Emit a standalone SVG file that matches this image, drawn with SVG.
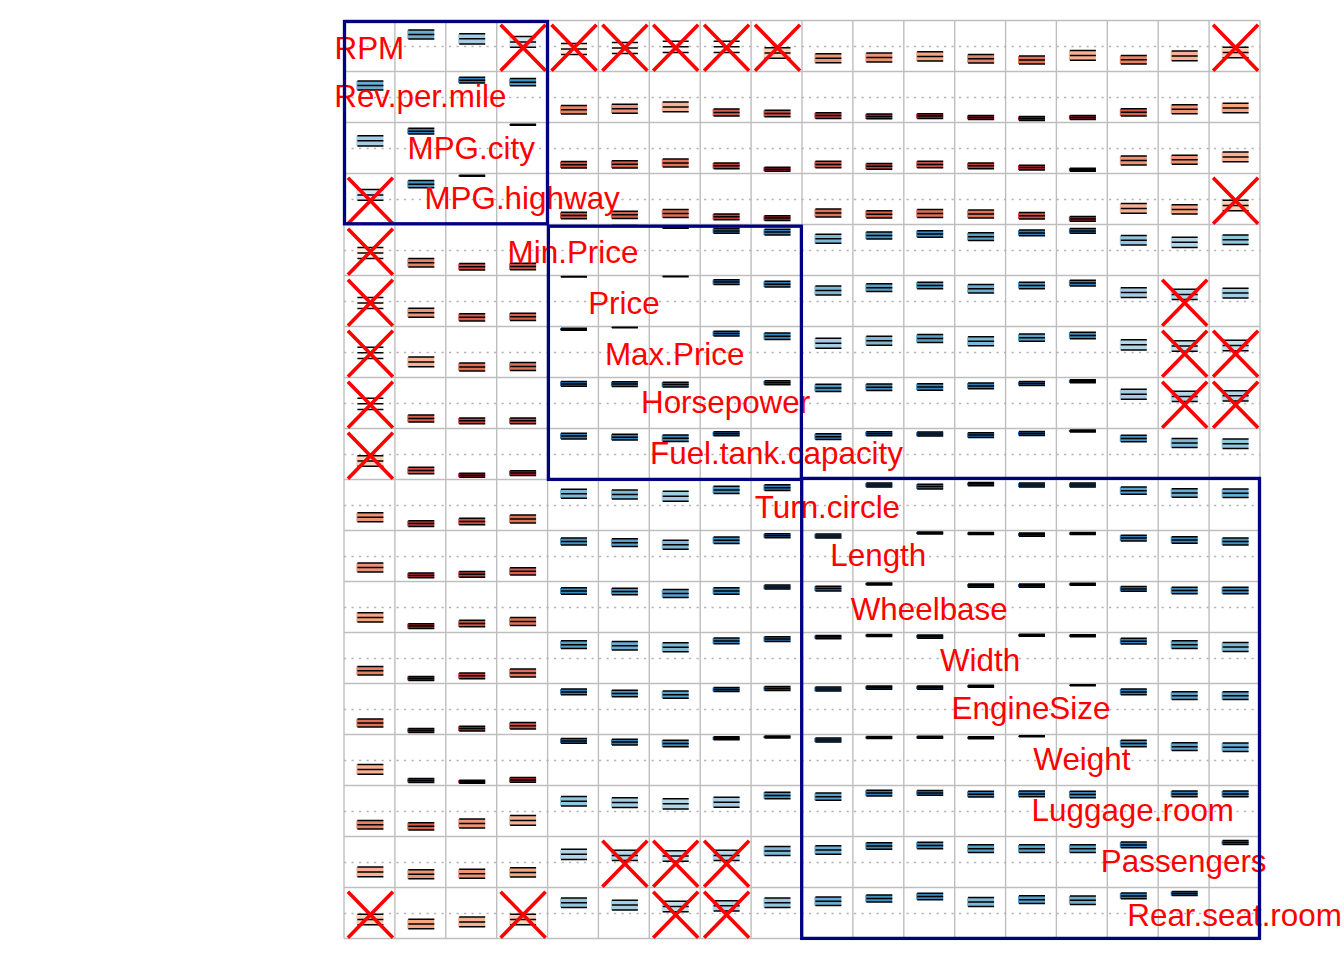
<svg xmlns="http://www.w3.org/2000/svg" width="1344" height="960" viewBox="0 0 1344 960">
<style>
.g{stroke:#BEBEBE;stroke-width:1.4;fill:none}
.d{stroke:#B4B4B4;stroke-width:1.4;stroke-dasharray:2.2 5.3;fill:none}
.k{stroke:#000;stroke-width:1.5;fill:none}
.x{stroke:#FF0000;stroke-width:3.6;fill:none}
.lab{font-family:"Liberation Sans",Arial,sans-serif;font-size:31.4px;fill:#FF0000;text-anchor:middle}
.cl{fill:none;stroke:#000080;stroke-width:3.3}
.p20{fill:#D1E5F0}.p25{fill:#C1DDEB}.p30{fill:#B2D5E7}.p35{fill:#A2CDE2}.p40{fill:#92C5DE}.p45{fill:#7EB8D7}.p50{fill:#6BACD0}.p55{fill:#57A0CA}.p60{fill:#4393C3}.p65{fill:#3B88BD}.p70{fill:#327DB8}.p75{fill:#2A71B2}.p80{fill:#2166AC}.p85{fill:#1A5999}.p90{fill:#134B87}.p95{fill:#0C3E74}
.n00{fill:#FFFCFA}.n05{fill:#FFF6F1}.n10{fill:#FEEDE3}.n25{fill:#FBCEB6}.n35{fill:#F6B393}.n40{fill:#F4A582}.n45{fill:#EC9475}.n50{fill:#E58368}.n55{fill:#DE715A}.n60{fill:#D6604D}.n65{fill:#CD4E45}.n70{fill:#C43C3C}.n75{fill:#BB2A34}.n80{fill:#B2182B}
</style>
<defs>
<g id="s00"><rect x="-13" y="-5.6" width="27" height="11.2"/><path class="k" d="M-12-5.6h26M-12 0h26M-12 5.6h26"/></g>
<g id="s10"><rect x="-13" y="-5.55" width="27" height="11.1"/><path class="k" d="M-12-5.55h26M-12 0h26M-12 5.55h26"/></g>
<g id="s20"><rect x="-13" y="-5.4" width="27" height="10.8"/><path class="k" d="M-12-5.4h26M-12 0h26M-12 5.4h26"/></g>
<g id="s25"><rect x="-13" y="-5.25" width="27" height="10.5"/><path class="k" d="M-12-5.25h26M-12 0h26M-12 5.25h26"/></g>
<g id="s30"><rect x="-13" y="-5.1" width="27" height="10.2"/><path class="k" d="M-12-5.1h26M-12 0h26M-12 5.1h26"/></g>
<g id="s35"><rect x="-13" y="-4.95" width="27" height="9.9"/><path class="k" d="M-12-4.95h26M-12 0h26M-12 4.95h26"/></g>
<g id="s40"><rect x="-13" y="-4.7" width="27" height="9.4"/><path class="k" d="M-12-4.7h26M-12 0h26M-12 4.7h26"/></g>
<g id="s45"><rect x="-13" y="-4.5" width="27" height="9"/><path class="k" d="M-12-4.5h26M-12 0h26M-12 4.5h26"/></g>
<g id="s50"><rect x="-13" y="-4.2" width="27" height="8.4"/><path class="k" d="M-12-4.2h26M-12 0h26M-12 4.2h26"/></g>
<g id="s55"><rect x="-13" y="-3.9" width="27" height="7.8"/><path class="k" d="M-12-3.9h26M-12 0h26M-12 3.9h26"/></g>
<g id="s60"><rect x="-13" y="-3.6" width="27" height="7.2"/><path class="k" d="M-12-3.6h26M-12 0h26M-12 3.6h26"/></g>
<g id="s65"><rect x="-13" y="-3.25" width="27" height="6.5"/><path class="k" d="M-12-3.25h26M-12 0h26M-12 3.25h26"/></g>
<g id="s70"><rect x="-13" y="-2.85" width="27" height="5.7"/><path class="k" d="M-12-2.85h26M-12 0h26M-12 2.85h26"/></g>
<g id="s75"><rect x="-13" y="-2.45" width="27" height="4.9"/><path class="k" d="M-12-2.45h26M-12 0h26M-12 2.45h26"/></g>
<g id="s80"><rect x="-13" y="-2" width="27" height="4"/><path class="k" d="M-12-2h26M-12 0h26M-12 2h26"/></g>
<g id="s85"><rect x="-13" y="-1.55" width="27" height="3.1"/><path class="k" d="M-12-1.55h26M-12 0h26M-12 1.55h26"/></g>
<g id="s90"><rect x="-13" y="-1.05" width="27" height="2.1"/><path class="k" d="M-12-1.05h26M-12 0h26M-12 1.05h26"/></g>
<g id="s95"><rect x="-13" y="-0.55" width="27" height="1.1"/><path class="k" d="M-12-0.55h26M-12 0h26M-12 0.55h26"/></g>
<g id="s98"><rect x="-13" y="-0.3" width="27" height="0.6"/><path class="k" d="M-12-0.3h26M-12 0h26M-12 0.3h26"/></g>
<path id="xx" class="x" d="M-21.5-21.8L23.5 24.2M-21.5 24.2L23.5-21.8"/>
</defs>
<rect width="1344" height="960" fill="#FFFFFF"/>
<g id="grid">
<path class="g" d="M344 20.5V938.5M394.9 20.5V938.5M445.8 20.5V938.5M496.7 20.5V938.5M547.6 20.5V938.5M598.4 20.5V938.5M649.3 20.5V938.5M700.2 20.5V938.5M751.1 20.5V938.5M802 20.5V938.5M852.9 20.5V938.5M903.8 20.5V938.5M954.7 20.5V938.5M1005.6 20.5V938.5M1056.4 20.5V938.5M1107.3 20.5V938.5M1158.2 20.5V938.5M1209.1 20.5V938.5M1260 20.5V938.5M344 20.5H1260M344 71.5H1260M344 122.5H1260M344 173.5H1260M344 224.5H1260M344 275.5H1260M344 326.5H1260M344 377.5H1260M344 428.5H1260M344 479.5H1260M344 530.5H1260M344 581.5H1260M344 632.5H1260M344 683.5H1260M344 734.5H1260M344 785.5H1260M344 836.5H1260M344 887.5H1260M344 938.5H1260"/>
<path class="d" d="M344 46.5H1260M344 97.5H1260M344 148.5H1260M344 199.5H1260M344 250.5H1260M344 301.5H1260M344 352.5H1260M344 403.5H1260M344 454.5H1260M344 505.5H1260M344 556.5H1260M344 607.5H1260M344 658.5H1260M344 709.5H1260M344 760.5H1260M344 811.5H1260M344 862.5H1260M344 913.5H1260"/>
</g>
<g id="glyphs">
<g id="row-RPM">
<use href="#s45" class="p50" x="420.3" y="34.5"/><use href="#s30" class="p35" x="471.2" y="38.85"/><use href="#s20" class="p20" x="522.1" y="41.9"/><use href="#s10" class="n10" x="573" y="49.05"/><use href="#s00" class="n05" x="623.9" y="48"/><use href="#s00" class="n00" x="674.7" y="46.8"/><use href="#s00" class="n00" x="725.6" y="46.8"/><use href="#s25" class="n25" x="776.5" y="52.9"/><use href="#s45" class="n45" x="827.4" y="58.2"/><use href="#s45" class="n45" x="878.3" y="57.5"/><use href="#s40" class="n40" x="929.2" y="56.4"/><use href="#s50" class="n50" x="980.1" y="58.7"/><use href="#s55" class="n55" x="1031" y="60"/><use href="#s35" class="n35" x="1081.9" y="55.4"/><use href="#s50" class="n50" x="1132.8" y="59.8"/><use href="#s35" class="n35" x="1183.7" y="55.9"/><use href="#s25" class="n25" x="1234.6" y="52.4"/>
</g>
<g id="row-Rev.per.mile">
<use href="#s45" class="p50" x="369.4" y="85.5"/><use href="#s70" class="p70" x="471.2" y="80.2"/><use href="#s60" class="p60" x="522.1" y="82.2"/><use href="#s50" class="n50" x="573" y="109.7"/><use href="#s45" class="n45" x="623.9" y="108.7"/><use href="#s35" class="n35" x="674.7" y="106.9"/><use href="#s60" class="n60" x="725.6" y="112.5"/><use href="#s65" class="n65" x="776.5" y="113.6"/><use href="#s70" class="n70" x="827.4" y="115.6"/><use href="#s75" class="n75" x="878.3" y="116.4"/><use href="#s75" class="n75" x="929.2" y="116.1"/><use href="#s80" class="n80" x="980.1" y="117.4"/><use href="#s80" class="n80" x="1031" y="118.4"/><use href="#s80" class="n80" x="1081.9" y="117.4"/><use href="#s60" class="n60" x="1132.8" y="112.3"/><use href="#s45" class="n45" x="1183.7" y="109.2"/><use href="#s40" class="n40" x="1234.6" y="108"/>
</g>
<g id="row-MPG.city">
<use href="#s30" class="p35" x="369.4" y="140.85"/><use href="#s70" class="p70" x="420.3" y="131.2"/><use href="#s95" class="p90" x="522.1" y="124.8"/><use href="#s65" class="n65" x="573" y="164.8"/><use href="#s60" class="n60" x="623.9" y="164.3"/><use href="#s55" class="n55" x="674.7" y="163"/><use href="#s70" class="n70" x="725.6" y="165.8"/><use href="#s80" class="n80" x="776.5" y="169.2"/><use href="#s65" class="n65" x="827.4" y="164.6"/><use href="#s70" class="n70" x="878.3" y="166.35"/><use href="#s65" class="n65" x="929.2" y="164.6"/><use href="#s70" class="n70" x="980.1" y="165.8"/><use href="#s75" class="n75" x="1031" y="167.6"/><use href="#s85" class="n80" x="1081.9" y="169.7"/><use href="#s45" class="n45" x="1132.8" y="160.5"/><use href="#s45" class="n45" x="1183.7" y="159.7"/><use href="#s35" class="n35" x="1234.6" y="156.9"/>
</g>
<g id="row-MPG.highway">
<use href="#s20" class="p20" x="369.4" y="194.9"/><use href="#s60" class="p60" x="420.3" y="184.2"/><use href="#s95" class="p90" x="471.2" y="175.8"/><use href="#s65" class="n65" x="573" y="215.6"/><use href="#s60" class="n60" x="623.9" y="214.8"/><use href="#s55" class="n55" x="674.7" y="213.5"/><use href="#s70" class="n70" x="725.6" y="216.8"/><use href="#s75" class="n75" x="776.5" y="218.1"/><use href="#s55" class="n55" x="827.4" y="213"/><use href="#s60" class="n60" x="878.3" y="214.3"/><use href="#s55" class="n55" x="929.2" y="213.5"/><use href="#s55" class="n55" x="980.1" y="214"/><use href="#s65" class="n65" x="1031" y="215.8"/><use href="#s75" class="n75" x="1081.9" y="218.9"/><use href="#s35" class="n35" x="1132.8" y="208.4"/><use href="#s40" class="n40" x="1183.7" y="209.4"/><use href="#s25" class="n25" x="1234.6" y="205.4"/>
</g>
<g id="row-Min.Price">
<use href="#s10" class="n10" x="369.4" y="253.05"/><use href="#s50" class="n50" x="420.3" y="262.7"/><use href="#s65" class="n65" x="471.2" y="266.8"/><use href="#s65" class="n65" x="522.1" y="266.6"/><use href="#s98" class="p95" x="623.9" y="225.8"/><use href="#s90" class="p90" x="674.7" y="227.3"/><use href="#s75" class="p75" x="725.6" y="230.9"/><use href="#s70" class="p70" x="776.5" y="232.1"/><use href="#s45" class="p45" x="827.4" y="238.8"/><use href="#s60" class="p60" x="878.3" y="235.5"/><use href="#s65" class="p65" x="929.2" y="233.9"/><use href="#s55" class="p55" x="980.1" y="236.7"/><use href="#s70" class="p70" x="1031" y="232.9"/><use href="#s75" class="p75" x="1081.9" y="230.9"/><use href="#s40" class="p40" x="1132.8" y="240.3"/><use href="#s30" class="p30" x="1183.7" y="242.3"/><use href="#s40" class="p40" x="1234.6" y="239.8"/>
</g>
<g id="row-Price">
<use href="#s00" class="n05" x="369.4" y="303"/><use href="#s45" class="n45" x="420.3" y="312.7"/><use href="#s60" class="n60" x="471.2" y="317.3"/><use href="#s60" class="n60" x="522.1" y="316.8"/><use href="#s98" class="p95" x="573" y="276.8"/><use href="#s98" class="p95" x="674.7" y="276.5"/><use href="#s75" class="p75" x="725.6" y="282.1"/><use href="#s70" class="p70" x="776.5" y="284.2"/><use href="#s45" class="p45" x="827.4" y="290.5"/><use href="#s55" class="p55" x="878.3" y="287.7"/><use href="#s65" class="p60" x="929.2" y="285.4"/><use href="#s50" class="p50" x="980.1" y="288.75"/><use href="#s65" class="p60" x="1031" y="285.4"/><use href="#s70" class="p70" x="1081.9" y="283.1"/><use href="#s35" class="p35" x="1132.8" y="292.6"/><use href="#s30" class="p30" x="1183.7" y="294.4"/><use href="#s35" class="p35" x="1234.6" y="293.1"/>
</g>
<g id="row-Max.Price">
<use href="#s00" class="n00" x="369.4" y="352.8"/><use href="#s35" class="n35" x="420.3" y="361.9"/><use href="#s55" class="n55" x="471.2" y="367"/><use href="#s55" class="n55" x="522.1" y="366.5"/><use href="#s90" class="p90" x="573" y="329.3"/><use href="#s98" class="p95" x="623.9" y="327.5"/><use href="#s75" class="p75" x="725.6" y="333.6"/><use href="#s65" class="p65" x="776.5" y="336.2"/><use href="#s35" class="p35" x="827.4" y="343.3"/><use href="#s45" class="p45" x="878.3" y="340.8"/><use href="#s55" class="p55" x="929.2" y="338.5"/><use href="#s45" class="p45" x="980.1" y="341.3"/><use href="#s60" class="p55" x="1031" y="337.7"/><use href="#s65" class="p65" x="1081.9" y="335.4"/><use href="#s30" class="p30" x="1132.8" y="344.85"/><use href="#s25" class="p25" x="1183.7" y="346.1"/><use href="#s25" class="p25" x="1234.6" y="345.6"/>
</g>
<g id="row-Horsepower">
<use href="#s00" class="n00" x="369.4" y="403.8"/><use href="#s60" class="n60" x="420.3" y="418.5"/><use href="#s70" class="n70" x="471.2" y="420.8"/><use href="#s70" class="n70" x="522.1" y="420.8"/><use href="#s75" class="p75" x="573" y="383.9"/><use href="#s75" class="p75" x="623.9" y="384.1"/><use href="#s75" class="p75" x="674.7" y="384.6"/><use href="#s80" class="p80" x="776.5" y="382.8"/><use href="#s60" class="p60" x="827.4" y="387.9"/><use href="#s65" class="p65" x="878.3" y="387.2"/><use href="#s65" class="p65" x="929.2" y="386.9"/><use href="#s70" class="p70" x="980.1" y="385.9"/><use href="#s80" class="p75" x="1031" y="383.6"/><use href="#s85" class="p85" x="1081.9" y="381.3"/><use href="#s35" class="p35" x="1132.8" y="394.3"/><use href="#s30" class="p30" x="1183.7" y="396.4"/><use href="#s30" class="p30" x="1234.6" y="395.85"/>
</g>
<g id="row-Fuel.tank.capacity">
<use href="#s25" class="n25" x="369.4" y="460.9"/><use href="#s65" class="n65" x="420.3" y="470.6"/><use href="#s80" class="n80" x="471.2" y="475.2"/><use href="#s75" class="n75" x="522.1" y="473.1"/><use href="#s70" class="p70" x="573" y="436.1"/><use href="#s70" class="p70" x="623.9" y="437.2"/><use href="#s65" class="p65" x="674.7" y="438.2"/><use href="#s80" class="p80" x="725.6" y="433.8"/><use href="#s70" class="p70" x="827.4" y="436.65"/><use href="#s80" class="p80" x="878.3" y="433.8"/><use href="#s80" class="p80" x="929.2" y="434.1"/><use href="#s75" class="p75" x="980.1" y="435.1"/><use href="#s80" class="p80" x="1031" y="433.6"/><use href="#s90" class="p90" x="1081.9" y="431"/><use href="#s65" class="p60" x="1132.8" y="438.4"/><use href="#s45" class="p45" x="1183.7" y="443"/><use href="#s40" class="p40" x="1234.6" y="443.8"/>
</g>
<g id="row-Turn.circle">
<use href="#s45" class="n45" x="369.4" y="517.2"/><use href="#s70" class="n70" x="420.3" y="523.6"/><use href="#s65" class="n65" x="471.2" y="521.6"/><use href="#s55" class="n55" x="522.1" y="519"/><use href="#s45" class="p45" x="573" y="493.8"/><use href="#s45" class="p45" x="623.9" y="494.5"/><use href="#s35" class="p35" x="674.7" y="496.3"/><use href="#s60" class="p60" x="725.6" y="489.9"/><use href="#s70" class="p70" x="776.5" y="487.65"/><use href="#s80" class="p80" x="878.3" y="485.1"/><use href="#s75" class="p75" x="929.2" y="486.6"/><use href="#s85" class="p85" x="980.1" y="484.1"/><use href="#s80" class="p80" x="1031" y="485.1"/><use href="#s80" class="p80" x="1081.9" y="485.1"/><use href="#s60" class="p55" x="1132.8" y="490.7"/><use href="#s50" class="p50" x="1183.7" y="493"/><use href="#s50" class="p50" x="1234.6" y="493.3"/>
</g>
<g id="row-Length">
<use href="#s45" class="n45" x="369.4" y="567.5"/><use href="#s75" class="n75" x="420.3" y="575.4"/><use href="#s70" class="n70" x="471.2" y="574.35"/><use href="#s60" class="n60" x="522.1" y="571.3"/><use href="#s60" class="p60" x="573" y="541.5"/><use href="#s55" class="p55" x="623.9" y="542.7"/><use href="#s45" class="p45" x="674.7" y="544.8"/><use href="#s65" class="p65" x="725.6" y="540.2"/><use href="#s80" class="p80" x="776.5" y="535.8"/><use href="#s80" class="p80" x="827.4" y="536.1"/><use href="#s90" class="p90" x="929.2" y="533"/><use href="#s90" class="p90" x="980.1" y="533.55"/><use href="#s85" class="p85" x="1031" y="534.6"/><use href="#s90" class="p90" x="1081.9" y="533.55"/><use href="#s70" class="p70" x="1132.8" y="538.1"/><use href="#s65" class="p65" x="1183.7" y="539.9"/><use href="#s60" class="p60" x="1234.6" y="541.5"/>
</g>
<g id="row-Wheelbase">
<use href="#s40" class="n40" x="369.4" y="617.4"/><use href="#s75" class="n75" x="420.3" y="626.1"/><use href="#s65" class="n65" x="471.2" y="623.6"/><use href="#s55" class="n55" x="522.1" y="621.5"/><use href="#s65" class="p65" x="573" y="591"/><use href="#s65" class="p60" x="623.9" y="591.4"/><use href="#s55" class="p55" x="674.7" y="593.5"/><use href="#s65" class="p65" x="725.6" y="591"/><use href="#s80" class="p80" x="776.5" y="587.1"/><use href="#s75" class="p75" x="827.4" y="588.6"/><use href="#s90" class="p90" x="878.3" y="584"/><use href="#s85" class="p85" x="980.1" y="585.6"/><use href="#s85" class="p85" x="1031" y="585.6"/><use href="#s90" class="p90" x="1081.9" y="584.3"/><use href="#s75" class="p70" x="1132.8" y="588.9"/><use href="#s65" class="p65" x="1183.7" y="590.4"/><use href="#s65" class="p65" x="1234.6" y="590.4"/>
</g>
<g id="row-Width">
<use href="#s50" class="n50" x="369.4" y="670.7"/><use href="#s80" class="n80" x="420.3" y="678.4"/><use href="#s70" class="n70" x="471.2" y="675.8"/><use href="#s55" class="n55" x="522.1" y="673"/><use href="#s55" class="p55" x="573" y="644.7"/><use href="#s50" class="p50" x="623.9" y="645.75"/><use href="#s45" class="p45" x="674.7" y="647.3"/><use href="#s70" class="p70" x="725.6" y="640.9"/><use href="#s75" class="p75" x="776.5" y="639.1"/><use href="#s85" class="p85" x="827.4" y="637.1"/><use href="#s90" class="p90" x="878.3" y="635.55"/><use href="#s85" class="p85" x="929.2" y="636.6"/><use href="#s90" class="p90" x="1031" y="635.3"/><use href="#s90" class="p85" x="1081.9" y="635.8"/><use href="#s70" class="p70" x="1132.8" y="641.2"/><use href="#s55" class="p55" x="1183.7" y="644.7"/><use href="#s45" class="p45" x="1234.6" y="647"/>
</g>
<g id="row-EngineSize">
<use href="#s55" class="n55" x="369.4" y="723"/><use href="#s80" class="n80" x="420.3" y="730.4"/><use href="#s75" class="n75" x="471.2" y="728.6"/><use href="#s65" class="n65" x="522.1" y="725.8"/><use href="#s70" class="p70" x="573" y="691.9"/><use href="#s65" class="p60" x="623.9" y="693.4"/><use href="#s60" class="p55" x="674.7" y="694.7"/><use href="#s80" class="p75" x="725.6" y="689.6"/><use href="#s80" class="p80" x="776.5" y="688.6"/><use href="#s80" class="p80" x="827.4" y="689.1"/><use href="#s85" class="p85" x="878.3" y="687.6"/><use href="#s85" class="p85" x="929.2" y="687.6"/><use href="#s90" class="p90" x="980.1" y="686.3"/><use href="#s95" class="p95" x="1081.9" y="685.3"/><use href="#s70" class="p70" x="1132.8" y="691.9"/><use href="#s55" class="p55" x="1183.7" y="695.7"/><use href="#s55" class="p55" x="1234.6" y="695.7"/>
</g>
<g id="row-Weight">
<use href="#s35" class="n35" x="369.4" y="769.4"/><use href="#s80" class="n80" x="420.3" y="780.4"/><use href="#s85" class="n80" x="471.2" y="781.7"/><use href="#s75" class="n75" x="522.1" y="779.9"/><use href="#s75" class="p75" x="573" y="740.9"/><use href="#s70" class="p70" x="623.9" y="742.1"/><use href="#s65" class="p65" x="674.7" y="743.4"/><use href="#s85" class="p85" x="725.6" y="738.3"/><use href="#s90" class="p90" x="776.5" y="737"/><use href="#s80" class="p80" x="827.4" y="740.1"/><use href="#s90" class="p90" x="878.3" y="737.55"/><use href="#s90" class="p90" x="929.2" y="737.3"/><use href="#s90" class="p85" x="980.1" y="737.8"/><use href="#s95" class="p95" x="1031" y="736.3"/><use href="#s65" class="p65" x="1132.8" y="743.4"/><use href="#s55" class="p55" x="1183.7" y="746.7"/><use href="#s50" class="p50" x="1234.6" y="747.2"/>
</g>
<g id="row-Luggage.room">
<use href="#s50" class="n50" x="369.4" y="824.8"/><use href="#s60" class="n60" x="420.3" y="826.3"/><use href="#s45" class="n45" x="471.2" y="823.5"/><use href="#s35" class="n35" x="522.1" y="820.4"/><use href="#s40" class="p40" x="573" y="801.3"/><use href="#s35" class="p35" x="623.9" y="802.6"/><use href="#s30" class="p30" x="674.7" y="803.85"/><use href="#s35" class="p35" x="725.6" y="802.3"/><use href="#s65" class="p60" x="776.5" y="795.4"/><use href="#s60" class="p55" x="827.4" y="796.7"/><use href="#s70" class="p70" x="878.3" y="793.1"/><use href="#s75" class="p70" x="929.2" y="792.9"/><use href="#s70" class="p70" x="980.1" y="794.2"/><use href="#s70" class="p70" x="1031" y="793.9"/><use href="#s65" class="p65" x="1081.9" y="794.4"/><use href="#s70" class="p70" x="1183.7" y="793.9"/><use href="#s70" class="p70" x="1234.6" y="793.9"/>
</g>
<g id="row-Passengers">
<use href="#s35" class="n35" x="369.4" y="871.9"/><use href="#s45" class="n45" x="420.3" y="874.2"/><use href="#s45" class="n45" x="471.2" y="873.7"/><use href="#s40" class="n40" x="522.1" y="872.4"/><use href="#s30" class="p30" x="573" y="854.3"/><use href="#s30" class="p30" x="623.9" y="855.4"/><use href="#s25" class="p25" x="674.7" y="856.1"/><use href="#s30" class="p30" x="725.6" y="855.4"/><use href="#s45" class="p45" x="776.5" y="851"/><use href="#s50" class="p50" x="827.4" y="850"/><use href="#s65" class="p65" x="878.3" y="845.9"/><use href="#s65" class="p65" x="929.2" y="845.4"/><use href="#s55" class="p55" x="980.1" y="848.7"/><use href="#s55" class="p55" x="1031" y="848.7"/><use href="#s55" class="p55" x="1081.9" y="848.7"/><use href="#s70" class="p70" x="1132.8" y="844.9"/><use href="#s80" class="p75" x="1234.6" y="842.6"/>
</g>
<g id="row-Rear.seat.room">
<use href="#s25" class="n25" x="369.4" y="919.4"/><use href="#s40" class="n40" x="420.3" y="924"/><use href="#s35" class="n35" x="471.2" y="921.9"/><use href="#s25" class="n25" x="522.1" y="919.4"/><use href="#s40" class="p40" x="573" y="902.8"/><use href="#s35" class="p35" x="623.9" y="905.1"/><use href="#s25" class="p25" x="674.7" y="906.6"/><use href="#s30" class="p30" x="725.6" y="905.85"/><use href="#s40" class="p40" x="776.5" y="902.8"/><use href="#s50" class="p50" x="827.4" y="901.3"/><use href="#s60" class="p60" x="878.3" y="898.5"/><use href="#s65" class="p65" x="929.2" y="896.4"/><use href="#s45" class="p45" x="980.1" y="902"/><use href="#s55" class="p55" x="1031" y="899.7"/><use href="#s50" class="p50" x="1081.9" y="900.2"/><use href="#s70" class="p70" x="1132.8" y="895.9"/><use href="#s80" class="p75" x="1183.7" y="893.6"/>
</g>
</g>
<g id="insignificant">
<use href="#xx" x="522.1" y="46.5"/><use href="#xx" x="573" y="46.5"/><use href="#xx" x="623.9" y="46.5"/><use href="#xx" x="674.7" y="46.5"/><use href="#xx" x="725.6" y="46.5"/><use href="#xx" x="776.5" y="46.5"/><use href="#xx" x="1234.6" y="46.5"/>
<use href="#xx" x="1234.6" y="199.5"/><use href="#xx" x="1183.7" y="301.5"/><use href="#xx" x="1183.7" y="352.5"/><use href="#xx" x="1234.6" y="352.5"/><use href="#xx" x="1183.7" y="403.5"/><use href="#xx" x="1234.6" y="403.5"/>
<use href="#xx" x="369.4" y="199.5"/><use href="#xx" x="369.4" y="250.5"/><use href="#xx" x="369.4" y="301.5"/><use href="#xx" x="369.4" y="352.5"/><use href="#xx" x="369.4" y="403.5"/><use href="#xx" x="369.4" y="454.5"/>
<use href="#xx" x="623.9" y="862.5"/><use href="#xx" x="674.7" y="862.5"/><use href="#xx" x="725.6" y="862.5"/>
<use href="#xx" x="369.4" y="913.5"/><use href="#xx" x="522.1" y="913.5"/><use href="#xx" x="674.7" y="913.5"/><use href="#xx" x="725.6" y="913.5"/>
</g>
<g id="labels" class="lab">
<text x="369.4" y="59">RPM</text>
<text x="420.3" y="106.5">Rev.per.mile</text>
<text x="471.2" y="158.5">MPG.city</text>
<text x="522.1" y="208.5">MPG.highway</text>
<text x="573" y="263">Min.Price</text>
<text x="623.9" y="314">Price</text>
<text x="674.7" y="365">Max.Price</text>
<text x="725.6" y="412.5">Horsepower</text>
<text x="776.5" y="463.5">Fuel.tank.capacity</text>
<text x="827.4" y="518">Turn.circle</text>
<text x="878.3" y="565.5">Length</text>
<text x="929.2" y="620">Wheelbase</text>
<text x="980.1" y="671">Width</text>
<text x="1031" y="718.5">EngineSize</text>
<text x="1081.9" y="769.5">Weight</text>
<text x="1132.8" y="820.5">Luggage.room</text>
<text x="1183.7" y="871.5">Passengers</text>
<text x="1234.6" y="926">Rear.seat.room</text>
</g>
<g id="clusters">
<rect class="cl" x="344.5" y="21.5" width="203" height="202.3"/>
<rect class="cl" x="548.4" y="226.2" width="253" height="253.2"/>
<rect class="cl" x="801.7" y="478.4" width="457.8" height="460"/>
</g>
</svg>
